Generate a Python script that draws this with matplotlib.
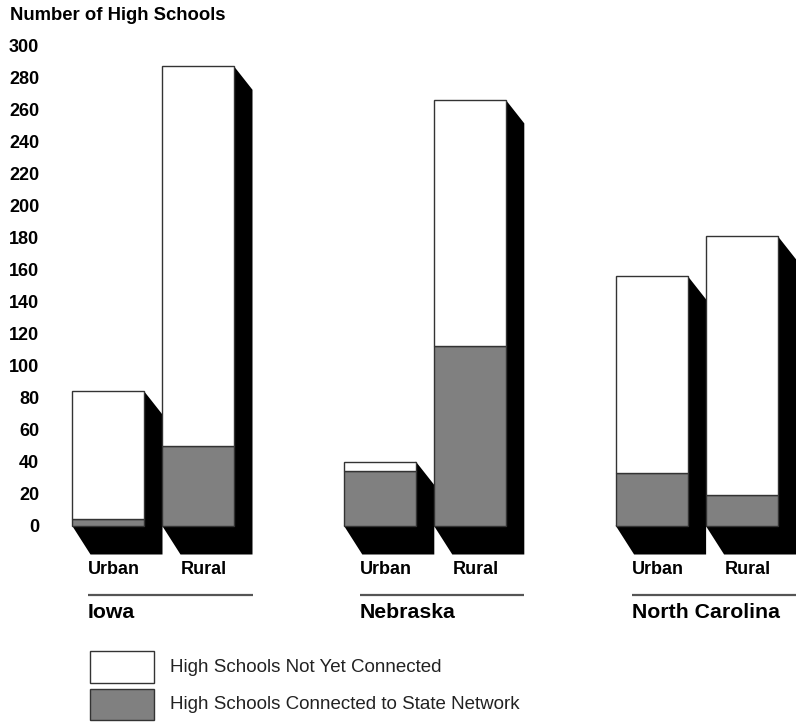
import matplotlib
matplotlib.use("Agg")
import matplotlib.pyplot as plt
from matplotlib.patches import Polygon, Rectangle

# ---------------- data ----------------
states = ["Iowa", "Nebraska", "North Carolina"]
areas = ["Urban", "Rural"]
connected_urban = [4, 34, 33]
connected_rural = [50, 112, 19]
not_connected_urban = [80, 6, 123]
not_connected_rural = [237, 154, 162]
y_ticks = list(range(0, 301, 20))
y_label = "Number of High Schools"
legend_labels = ["High Schools Not Yet Connected",
                 "High Schools Connected to State Network"]

# ---------------- style ----------------
FONT = ["Liberation Sans", "DejaVu Sans"]
plt.rcParams["font.family"] = FONT
GRAY = "#808080"
EDGE = "#333333"
W, H, DPI = 796, 722, 100
PX_PER_UNIT_Y = 1.6      # pixels per data unit (y)
PX_PER_UNIT_X = 90.0     # pixels per bar slot (x)
BASE_PX = 525.5          # pixel row of y=0
X0_PX = 108.0            # pixel column of the first bar centre
AX_LEFT_PX = 44.0
GROUP_STEP = 3.02
BAR_W = 0.8
DX = 18.5 / PX_PER_UNIT_X
DY_TOP = 23.5 / PX_PER_UNIT_Y
DY_BOT = 29.0 / PX_PER_UNIT_Y
FS_BOLD = 13.0

fig = plt.figure(figsize=(W / DPI, H / DPI), dpi=DPI)
ax = fig.add_axes([AX_LEFT_PX / W, 0, 1 - AX_LEFT_PX / W, 1])
ax.set_xlim((AX_LEFT_PX - X0_PX) / PX_PER_UNIT_X, (W - X0_PX) / PX_PER_UNIT_X)
ax.set_ylim(-(H - BASE_PX) / PX_PER_UNIT_Y, BASE_PX / PX_PER_UNIT_Y)
for s in ax.spines.values():
    s.set_visible(False)
ax.set_xticks([])
ax.set_yticks(y_ticks)
ax.set_yticklabels([str(t) for t in y_ticks], fontsize=FS_BOLD, fontweight="bold")
ax.tick_params(axis="y", length=0, pad=3.4)

positions, conn, notc = [], [], []
for g in range(len(states)):
    positions += [g * GROUP_STEP, g * GROUP_STEP + 1]
    conn += [connected_urban[g], connected_rural[g]]
    notc += [not_connected_urban[g], not_connected_rural[g]]

# shadows first
for x, c, n in zip(positions, conn, notc):
    top = c + n
    x0, x1 = x - BAR_W / 2, x + BAR_W / 2
    poly = Polygon([(x1, top), (x1 + DX, top - DY_TOP), (x1 + DX, -DY_BOT),
                    (x0 + DX, -DY_BOT), (x0, 0), (x1, 0)],
                   closed=True, facecolor="black", edgecolor="none", zorder=1)
    ax.add_patch(poly)

# bars
ax.bar(positions, conn, width=BAR_W, color=GRAY, edgecolor=EDGE, linewidth=1.0, zorder=2)
ax.bar(positions, notc, bottom=conn, width=BAR_W, color="white", edgecolor=EDGE,
       linewidth=1.0, zorder=2)

# category labels
lab_y = -(570 - BASE_PX) / PX_PER_UNIT_Y
line_y = -(595 - BASE_PX) / PX_PER_UNIT_Y
grp_y = -(612 - BASE_PX) / PX_PER_UNIT_Y
for g, st in enumerate(states):
    for i, a in enumerate(areas):
        ax.text(g * GROUP_STEP + i + 0.07, lab_y, a, ha="center", va="center",
                fontsize=FS_BOLD, fontweight="bold")
    lx0 = g * GROUP_STEP - BAR_W / 2 + 16 / PX_PER_UNIT_X
    lx1 = g * GROUP_STEP + 1 + BAR_W / 2 + DX
    ax.plot([lx0, lx1], [line_y, line_y], color="#555555", lw=1.6,
            solid_capstyle="butt", clip_on=False)
    ax.text(lx0, grp_y, st, ha="left", va="center", fontsize=15.3, fontweight="bold")

# y label (title)
fig.text(10 / W, 1 - 16 / H, y_label, ha="left", va="center", fontsize=13.3,
         fontweight="bold")

# legend
for k, (lbl, fc) in enumerate(zip(legend_labels, ["white", GRAY])):
    top_px = 651 + k * 37.5
    fig.patches.append(Rectangle((90 / W, 1 - (top_px + 31.5) / H), 64 / W, 31.5 / H,
                                 transform=fig.transFigure, facecolor=fc,
                                 edgecolor=EDGE, linewidth=1.0))
    fig.text(170 / W, 1 - (top_px + 16) / H, lbl, ha="left", va="center",
             fontsize=13.5, color="#222222")

fig.savefig("out.png", dpi=DPI)
